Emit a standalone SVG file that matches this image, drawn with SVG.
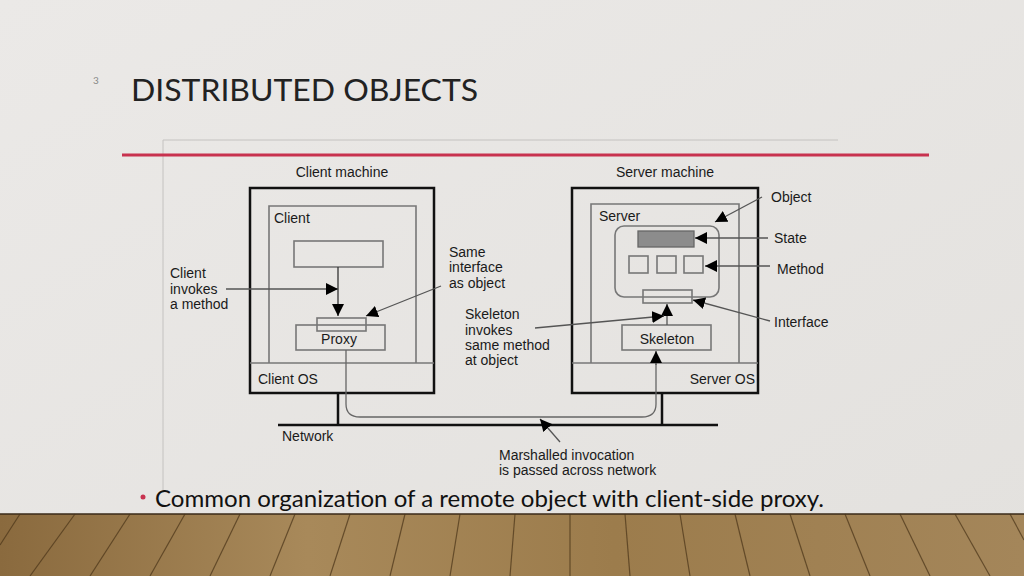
<svg xmlns="http://www.w3.org/2000/svg" width="1024" height="576" viewBox="0 0 1024 576">
<defs>
<linearGradient id="bg" x1="0" y1="0" x2="1" y2="1"><stop offset="0" stop-color="#ebe9e7"/><stop offset="1" stop-color="#e3e1de"/></linearGradient>
<linearGradient id="wood" x1="0" y1="0" x2="1" y2="0"><stop offset="0" stop-color="#8a6a3e"/><stop offset="0.3" stop-color="#a8895a"/><stop offset="0.6" stop-color="#9c7c4c"/><stop offset="1" stop-color="#a4865a"/></linearGradient>
<marker id="ahb" viewBox="0 0 10 10" refX="10" refY="5" markerWidth="12" markerHeight="12" markerUnits="userSpaceOnUse" orient="auto"><path d="M0,0 L10,5 L0,10 z" fill="#000"/></marker>
</defs>
<style>
.t{font-family:"Liberation Sans",Arial,sans-serif;font-size:14px;fill:#1a1a1a}
.thick{fill:none;stroke:#111;stroke-width:2.5}
.thin{fill:none;stroke:#777;stroke-width:1.6}
.ln{fill:none;stroke:#666;stroke-width:1.3}
.ar{fill:none;stroke:#555;stroke-width:1.3;marker-end:url(#ahb)}
.plank{stroke:#4a3418;stroke-width:1.2;opacity:0.7}
</style>
<rect width="1024" height="576" fill="url(#bg)"/>
<rect y="514" width="1024" height="62" fill="url(#wood)"/>
<line x1="0" y1="514" x2="1024" y2="514" stroke="#3a2a18" stroke-width="1.5"/>
<g class="plank">
<line x1="20" y1="514" x2="0" y2="545"/><line x1="75" y1="514" x2="30" y2="576"/><line x1="130" y1="514" x2="90" y2="576"/><line x1="185" y1="514" x2="150" y2="576"/><line x1="240" y1="514" x2="210" y2="576"/><line x1="295" y1="514" x2="270" y2="576"/><line x1="350" y1="514" x2="330" y2="576"/><line x1="405" y1="514" x2="390" y2="576"/><line x1="460" y1="514" x2="450" y2="576"/><line x1="515" y1="514" x2="510" y2="576"/><line x1="570" y1="514" x2="570" y2="576"/><line x1="625" y1="514" x2="630" y2="576"/><line x1="680" y1="514" x2="690" y2="576"/><line x1="735" y1="514" x2="750" y2="576"/><line x1="790" y1="514" x2="810" y2="576"/><line x1="845" y1="514" x2="870" y2="576"/><line x1="900" y1="514" x2="930" y2="576"/><line x1="955" y1="514" x2="990" y2="576"/><line x1="1010" y1="514" x2="1024" y2="540"/>
</g>
<text x="93" y="84" font-family="Lato,sans-serif" font-size="10" fill="#888">3</text>
<text x="131" y="101" font-family="Lato,'Liberation Sans',sans-serif" font-size="30" fill="#222" textLength="347" lengthAdjust="spacingAndGlyphs">DISTRIBUTED OBJECTS</text>
<path d="M163,490 V140 H838" fill="none" stroke="#c4c2c0" stroke-width="1"/>
<line x1="122" y1="155" x2="929" y2="155" stroke="#c8324f" stroke-width="3"/>

<g id="client-machine">
<text class="t" x="342" y="177" text-anchor="middle">Client machine</text>
<rect class="thick" x="250" y="188" width="184" height="205"/>
<path class="thin" d="M269,363 V206 H416 V363"/>
<line class="thin" x1="250" y1="363" x2="434" y2="363"/>
<text class="t" x="274" y="223">Client</text>
<text class="t" x="258" y="384">Client OS</text>
</g>
<g id="client-box"><rect class="thin" x="294" y="241" width="89" height="26"/></g>
<g id="proxy">
<rect class="thin" x="296" y="325" width="89" height="25" fill="#e8e6e3"/>
<rect class="thin" x="317" y="318" width="49" height="13" fill="#e8e6e3"/>
<text class="t" x="339" y="344" text-anchor="middle">Proxy</text>
</g>
<g id="server-machine">
<text class="t" x="665" y="177" text-anchor="middle">Server machine</text>
<rect class="thick" x="572" y="188" width="186" height="205"/>
<path class="thin" d="M591,363 V204 H739 V363"/>
<line class="thin" x1="572" y1="363" x2="758" y2="363"/>
<text class="t" x="599" y="221">Server</text>
<text class="t" x="755" y="384" text-anchor="end">Server OS</text>
</g>
<g id="object">
<rect class="thin" x="615" y="226" width="104" height="71" rx="9"/>
<rect x="638" y="231" width="56" height="16" fill="#8c8c8c" stroke="#666" stroke-width="1.3"/>
<rect class="thin" x="629" y="256" width="19" height="17"/>
<rect class="thin" x="657" y="256" width="19" height="17"/>
<rect class="thin" x="684" y="256" width="19" height="17"/>
<rect class="thin" x="643" y="290" width="49" height="13" fill="#e8e6e3"/>
</g>
<g id="skeleton">
<rect class="thin" x="622" y="325" width="89" height="25"/>
<text class="t" x="667" y="344" text-anchor="middle">Skeleton</text>
</g>
<g id="labels">
<text class="t" x="170" y="278">Client</text><text class="t" x="170" y="294">invokes</text><text class="t" x="170" y="309">a method</text>
<text class="t" x="449" y="257">Same</text><text class="t" x="449" y="272">interface</text><text class="t" x="449" y="288">as object</text>
<text class="t" x="465" y="319">Skeleton</text><text class="t" x="465" y="335">invokes</text><text class="t" x="465" y="350">same method</text><text class="t" x="465" y="365">at object</text>
<text class="t" x="771" y="202">Object</text>
<text class="t" x="774" y="243">State</text>
<text class="t" x="777" y="274">Method</text>
<text class="t" x="774" y="327">Interface</text>
<text class="t" x="282" y="441">Network</text>
<text class="t" x="499" y="460">Marshalled invocation</text>
<text class="t" x="499" y="475">is passed across network</text>
</g>
<g id="connectors">
<line x1="278" y1="425" x2="718" y2="425" stroke="#111" stroke-width="2.5"/>
<line x1="338" y1="393" x2="338" y2="425" stroke="#111" stroke-width="2.5"/>
<line x1="662" y1="393" x2="662" y2="425" stroke="#111" stroke-width="2.5"/>
<line x1="338" y1="267" x2="338" y2="316" stroke="#333" stroke-width="1.3" marker-end="url(#ahb)"/>
<line class="ar" x1="226" y1="289" x2="338" y2="289"/>
<line class="ar" x1="441" y1="286" x2="366" y2="316"/>
<path class="ln" d="M346,350 V404 Q346,417 360,417 H642 Q656,417 656,404 V360"/>
<line class="ar" x1="656" y1="365" x2="656" y2="351"/>
<line class="ar" x1="667" y1="325" x2="667" y2="304"/>
<line class="ar" x1="535" y1="328" x2="664" y2="316"/>
<line class="ar" x1="762" y1="197" x2="715" y2="222"/>
<line class="ar" x1="768" y1="238" x2="695" y2="238"/>
<line class="ar" x1="770" y1="266" x2="705" y2="266"/>
<line class="ar" x1="770" y1="321" x2="693" y2="300"/>
<line class="ar" x1="560" y1="442" x2="540" y2="419"/>
</g>
<circle cx="143" cy="497" r="2.5" fill="#c8324f"/>
<text x="155" y="507" font-family="Lato,'Liberation Sans',sans-serif" font-size="23" fill="#111" textLength="669" lengthAdjust="spacingAndGlyphs">Common organization of a remote object with client-side proxy.</text>
</svg>
